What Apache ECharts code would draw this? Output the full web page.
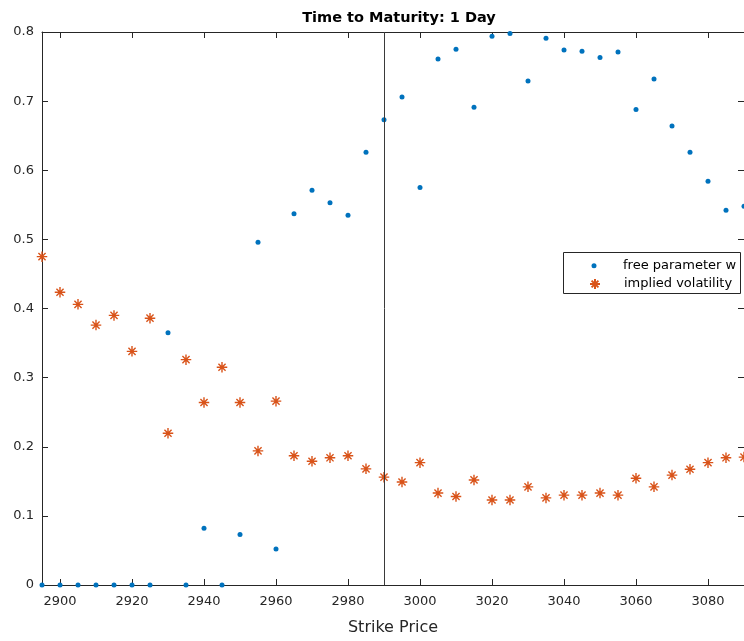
<!DOCTYPE html>
<html>
<head>
<meta charset="utf-8">
<script src="https://cdn.jsdelivr.net/npm/echarts@6/dist/echarts.min.js"></script>
<style>html,body{margin:0;padding:0;background:#fff}#c{width:744px;height:641px}</style>
</head>
<body>
<div id="c"></div>
<script>
const strikes = [2895,2900,2905,2910,2915,2920,2925,2930,2935,2940,2945,2950,2955,2960,2965,2970,2975,2980,2985,2990,2995,3000,3005,3010,3015,3020,3025,3030,3035,3040,3045,3050,3055,3060,3065,3070,3075,3080,3085,3090];
const freeParamW = [0,0,0,0,0,0,0,0.365,0,0.082,0,0.073,0.496,0.052,0.537,0.571,0.553,0.535,0.626,0.673,0.706,0.575,0.761,0.775,0.691,0.794,0.798,0.729,0.791,0.774,0.772,0.763,0.771,0.688,0.732,0.664,0.626,0.584,0.542,0.548];
const impliedVol = [0.475,0.4235,0.406,0.376,0.390,0.338,0.386,0.2195,0.326,0.264,0.315,0.264,0.194,0.266,0.187,0.179,0.184,0.187,0.168,0.156,0.149,0.177,0.133,0.128,0.152,0.123,0.123,0.142,0.126,0.130,0.130,0.133,0.130,0.1545,0.142,0.159,0.1675,0.177,0.184,0.185];
const xTicks = [2900,2920,2940,2960,2980,3000,3020,3040,3060,3080];
const spotStrike = 2990;
const titleText = 'Time to Maturity: 1 Day';
const xName = 'Strike Price';
const seriesNames = ['free parameter w','implied volatility'];

const FONT = 'DejaVu Sans';
const AX = '#262626';
const star = 'path://M5 0L5 10M0 5L10 5M1.6 1.6L8.4 8.4M1.6 8.4L8.4 1.6';

const chart = echarts.init(document.getElementById('c'), null, {renderer:'canvas'});
const pairs = (ys) => strikes.map((x,i)=>[x, ys[i]]);

const xCommon = {
  type:'value', min:2895, max:3090,
  splitLine:{show:false},
  axisLine:{show:true, onZero:false, lineStyle:{color:AX, width:1}},
  axisTick:{show:true, inside:true, length:6, customValues:xTicks, lineStyle:{color:AX}},
};
const yCommon = {
  type:'value', min:0, max:0.8, interval:0.1,
  splitLine:{show:false},
  axisLine:{show:true, onZero:false, lineStyle:{color:AX, width:1}},
  axisTick:{show:true, inside:true, length:6, lineStyle:{color:AX}},
};
const legText = {fontFamily:FONT, fontSize:13, color:'#000', lineHeight:14};

chart.setOption({
  animation:false,
  backgroundColor:'#fff',
  title:{
    text:titleText, left:394, top:6, textAlign:'center',
    textStyle:{fontFamily:FONT, fontSize:14.5, fontWeight:'bold', color:'#000'}
  },
  grid:{left:42, top:32, width:704, height:554, containLabel:false},
  graphic:[{
    type:'rect', left:563, top:252, z:90,
    shape:{width:177, height:41},
    style:{fill:'#fff', stroke:AX, lineWidth:1}
  }],
  legend:[
    {
      orient:'vertical', left:591.5, top:258.7, padding:0, z:100,
      itemWidth:5, itemHeight:5, icon:'circle',
      textStyle:Object.assign({}, legText, {padding:[0,0,0,21.5]}),
      data:[seriesNames[0]]
    },
    {
      orient:'vertical', left:589, top:277, padding:0, z:100,
      itemWidth:10, itemHeight:10,
      textStyle:Object.assign({}, legText, {padding:[0,0,0,19]}),
      data:[seriesNames[1]]
    }
  ],
  xAxis:[
    Object.assign({}, xCommon, {
      position:'bottom',
      name:xName, nameLocation:'middle', nameGap:35,
      nameTextStyle:{fontFamily:FONT, fontSize:16, color:AX},
      axisLabel:{show:true, customValues:xTicks, margin:10, fontFamily:FONT, fontSize:13, color:AX,
        formatter:(v)=>String(v)}
    }),
    Object.assign({}, xCommon, {position:'top', axisLabel:{show:false}})
  ],
  yAxis:[
    Object.assign({}, yCommon, {
      position:'left',
      axisLabel:{show:true, margin:8, fontFamily:FONT, fontSize:13, color:AX,
        formatter:(v)=> (Math.round(v*10)/10).toString()}
    }),
    Object.assign({}, yCommon, {position:'right', axisLabel:{show:false}})
  ],
  series:[
    {
      name:seriesNames[0], type:'scatter', xAxisIndex:0, yAxisIndex:0,
      data:pairs(freeParamW), symbol:'circle', symbolSize:5,
      itemStyle:{color:'#0072BD', opacity:1}, clip:false, z:3,
      markLine:{
        silent:true, symbol:['none','none'], label:{show:false},
        lineStyle:{color:'#3a3a3a', width:1, type:'solid'},
        data:[{xAxis:spotStrike}]
      }
    },
    {
      name:seriesNames[1], type:'scatter', xAxisIndex:0, yAxisIndex:0,
      data:pairs(impliedVol), symbol:star, symbolSize:10.5,
      itemStyle:{color:'rgba(0,0,0,0)', borderColor:'#D95319', borderWidth:1.4, opacity:1},
      clip:false, z:4
    }
  ]
});
</script>
</body>
</html>
